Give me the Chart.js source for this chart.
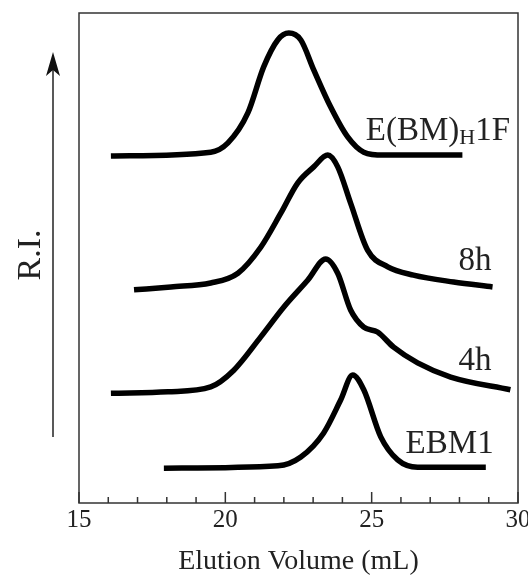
<!DOCTYPE html>
<html>
<head>
<meta charset="utf-8">
<script src="https://cdn.jsdelivr.net/npm/chart.js@4"></script>
<style>
  html, body { margin: 0; padding: 0; background: #fff; }
  #wrap { width: 528px; height: 575px; }
</style>
</head>
<body>
<div id="wrap"><canvas id="gpc-chart" width="528" height="575"></canvas></div>
<script>
const volHF = [16.09, 19.5, 20.09, 20.77, 21.31, 21.79, 22.17, 22.58, 23.02, 23.6, 24.18, 24.73, 25.41, 28.1];
const riHF  = [70.8, 71.6, 73.5, 79.6, 89.0, 94.5, 95.9, 94.5, 88.4, 80.8, 74.7, 71.6, 71.0, 71.0];

const vol8h = [16.88, 18.14, 19.5, 20.43, 21.21, 21.9, 22.47, 23.02, 23.5, 23.84, 24.28, 24.86, 25.55, 26.43, 27.8, 29.13];
const ri8h  = [43.5, 44.1, 44.9, 46.9, 52.2, 59.2, 65.3, 68.6, 71.0, 68.6, 61.2, 51.6, 48.2, 46.5, 45.1, 44.1];

const vol4h = [16.09, 18.04, 19.5, 20.29, 21.21, 22.0, 22.82, 23.43, 23.84, 24.28, 24.73, 25.2, 25.75, 26.57, 27.7, 29.74];
const ri4h  = [22.4, 22.7, 23.7, 27.1, 33.9, 40.0, 45.5, 49.8, 46.9, 39.4, 35.9, 34.9, 31.8, 28.6, 25.7, 23.1];

const volEBM = [17.9, 21.8, 22.58, 23.36, 23.94, 24.35, 24.73, 25.31, 25.89, 26.57, 28.9];
const riEBM  = [7.1, 7.6, 9.4, 14.3, 21.0, 26.1, 23.1, 13.5, 8.8, 7.3, 7.3];

const xTicks = [15, 20, 25, 30];

function toPoints(xs, ys) {
    return xs.map((x, i) => ({x: x, y: ys[i]}));
}

// rótulos das curvas (posição em coordenadas do gráfico)
const curveLabels = [
    {parts: [['E(BM)', 0], ['H', 1], ['1F', 0]], x: 24.8, y: 74.1},
    {parts: [['8h', 0]], x: 27.97, y: 47.6},
    {parts: [['4h', 0]], x: 27.97, y: 27.1},
    {parts: [['EBM1', 0]], x: 26.16, y: 10.2}
];

const serif = '"Liberation Serif", "DejaVu Serif", serif';

// moldura, ticks internos, seta e rótulos
const decorPlugin = {
    id: 'decor',
    afterDraw(chart) {
        const ctx = chart.ctx;
        const area = chart.chartArea;
        const xs = chart.scales.x;
        const ys = chart.scales.y;
        ctx.save();

        // moldura
        ctx.strokeStyle = '#333';
        ctx.lineWidth = 1.5;
        ctx.strokeRect(area.left, area.top, area.right - area.left, area.bottom - area.top);

        // ticks para dentro
        ctx.beginPath();
        for (let v = 15; v <= 30; v++) {
            const px = xs.getPixelForValue(v);
            const len = (v % 5 === 0) ? 11 : 6;
            ctx.moveTo(px, area.bottom);
            ctx.lineTo(px, area.bottom - len);
        }
        ctx.stroke();

        // seta R.I.
        const ax = 53;
        ctx.strokeStyle = '#222';
        ctx.lineWidth = 1.5;
        ctx.beginPath();
        ctx.moveTo(ax, 437);
        ctx.lineTo(ax, 70);
        ctx.stroke();
        ctx.fillStyle = '#111';
        ctx.beginPath();
        ctx.moveTo(ax, 52);
        ctx.lineTo(ax + 7, 76);
        ctx.lineTo(ax, 70);
        ctx.lineTo(ax - 7, 76);
        ctx.closePath();
        ctx.fill();

        ctx.save();
        ctx.translate(40, 255);
        ctx.rotate(-Math.PI / 2);
        ctx.font = '34px ' + serif;
        ctx.fillStyle = '#222';
        ctx.textAlign = 'center';
        ctx.textBaseline = 'alphabetic';
        ctx.fillText('R.I.', 0, 0);
        ctx.restore();

        // rótulos das curvas
        ctx.fillStyle = '#222';
        ctx.textBaseline = 'alphabetic';
        ctx.textAlign = 'left';
        curveLabels.forEach(lbl => {
            let px = xs.getPixelForValue(lbl.x);
            const py = ys.getPixelForValue(lbl.y);
            lbl.parts.forEach(([txt, sub]) => {
                ctx.font = (sub ? '22px ' : '33px ') + serif;
                ctx.fillText(txt, px, py + (sub ? 4 : 0));
                px += ctx.measureText(txt).width;
            });
        });

        ctx.restore();
    }
};

const ctx = document.getElementById('gpc-chart').getContext('2d');
const lineStyle = {
    borderColor: '#000',
    borderWidth: 5.5,
    pointRadius: 0,
    cubicInterpolationMode: 'monotone',
    fill: false,
    showLine: true
};

new Chart(ctx, {
    type: 'scatter',
    data: {
        datasets: [
            {label: 'E(BM)H1F', data: toPoints(volHF, riHF), ...lineStyle},
            {label: '8h', data: toPoints(vol8h, ri8h), ...lineStyle},
            {label: '4h', data: toPoints(vol4h, ri4h), ...lineStyle},
            {label: 'EBM1', data: toPoints(volEBM, riEBM), ...lineStyle}
        ]
    },
    options: {
        responsive: false,
        animation: false,
        layout: {
            padding: {left: 79, right: 0, top: 13, bottom: 0}
        },
        plugins: {
            legend: {display: false},
            tooltip: {enabled: false}
        },
        scales: {
            x: {
                type: 'linear',
                min: 15,
                max: 30,
                afterBuildTicks: (scale) => {
                    scale.ticks = xTicks.map(v => ({value: v}));
                },
                afterFit: (scale) => {
                    scale.paddingRight = 10;
                    scale.height = 72;
                },
                grid: {display: false, drawTicks: false},
                border: {display: false},
                ticks: {
                    color: '#222',
                    padding: 2,
                    maxRotation: 0,
                    font: {family: serif, size: 25}
                },
                title: {
                    display: true,
                    text: 'Elution Volume (mL)',
                    color: '#222',
                    padding: {top: 4, bottom: -3},
                    font: {family: serif, size: 28}
                }
            },
            y: {
                display: false,
                min: 0,
                max: 100
            }
        }
    },
    plugins: [decorPlugin]
});
</script>
</body>
</html>
